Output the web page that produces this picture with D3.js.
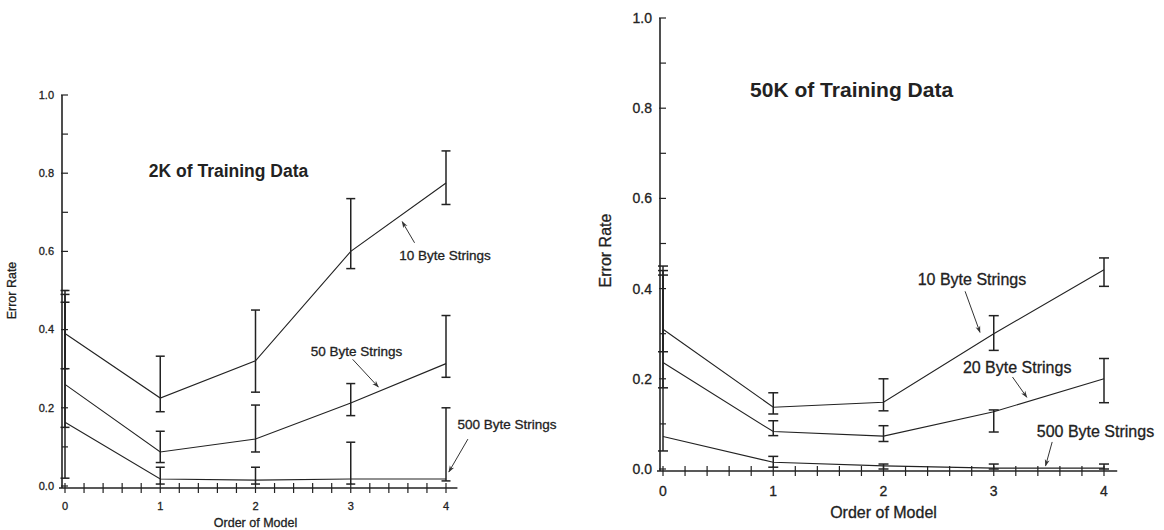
<!DOCTYPE html>
<html><head><meta charset="utf-8">
<script src="https://cdn.jsdelivr.net/npm/d3@7"></script>
<style>body{margin:0;background:#fff}svg{display:block}text{font-family:Arial,"Liberation Sans",sans-serif;fill:#222}</style>
</head><body><svg id="c" width="1164" height="530"></svg>
<script>
// ---------- data ----------
const orders = [0, 1, 2, 3, 4];
const xTickLabels = ["0", "1", "2", "3", "4"];
const yTickLabels = ["0.0", "0.2", "0.4", "0.6", "0.8", "1.0"];

// 2K of training data
const k2_10 = [0.39, 0.225, 0.32, 0.60, 0.775];
const k2_10_lo = [0.30, 0.19, 0.24, 0.556, 0.72];
const k2_10_hi = [0.49, 0.332, 0.45, 0.735, 0.857];
const k2_50 = [0.26, 0.087, 0.12, 0.212, 0.313];
const k2_50_lo = [0.15, 0.06, 0.087, 0.18, 0.278];
const k2_50_hi = [0.47, 0.14, 0.207, 0.262, 0.436];
const k2_500 = [0.163, 0.018, 0.015, 0.018, 0.018];
const k2_500_lo = [0.02, 0.005, 0.005, 0.005, 0.013];
const k2_500_hi = [0.50, 0.048, 0.048, 0.112, 0.20];

// 50K of training data
const k50_10 = [0.31, 0.137, 0.148, 0.30, 0.442];
const k50_10_lo = [0.26, 0.122, 0.129, 0.263, 0.405];
const k50_10_hi = [0.45, 0.169, 0.20, 0.34, 0.468];
const k50_20 = [0.236, 0.083, 0.073, 0.127, 0.20];
const k50_20_lo = [0.18, 0.074, 0.061, 0.082, 0.147];
const k50_20_hi = [0.44, 0.107, 0.096, 0.131, 0.245];
const k50_500 = [0.072, 0.015, 0.007, 0.002, 0.002];
const k50_500_lo = [0.04, 0.004, 0.0, 0.0, 0.0];
const k50_500_hi = [0.43, 0.028, 0.011, 0.011, 0.011];

// ---------- drawing ----------
const svg = d3.select("#c");
svg.append("defs").append("marker").attr("id","ah").attr("viewBox","0 0 10 10")
  .attr("refX",9).attr("refY",5).attr("markerWidth",7).attr("markerHeight",7)
  .attr("orient","auto-start-reverse")
  .append("path").attr("d","M0,1.5 L10,5 L0,8.5 L3,5 Z").attr("fill","#333");

function panel(cfg){
  const g = svg.append("g");
  const x = d3.scaleLinear().domain([0,4]).range([cfg.x0, cfg.x4]);
  const y = d3.scaleLinear().domain([0,1]).range([cfg.y0, cfg.y1]);
  const fs = cfg.fs;
  const axY = cfg.y0 + cfg.axOff;   // x-axis line sits slightly below zero
  const axX = cfg.x0 - cfg.axOffX;  // y-axis line slightly left of zero
  const heavy = sel => sel.attr("stroke","#222").attr("stroke-width",0.3);

  // x axis line
  g.append("line").attr("x1", axX-3).attr("x2", x(4.12)).attr("y1", axY).attr("y2", axY)
    .attr("stroke","#222").attr("stroke-width",1.6);
  d3.range(0, 4.001, 0.2).forEach(v=>{
    g.append("line").attr("x1",x(v)).attr("x2",x(v)).attr("y1",axY-5).attr("y2",axY+5)
      .attr("stroke","#222").attr("stroke-width",1.2);
  });
  orders.forEach((o,i)=>{
    g.append("text").attr("x",x(o)).attr("y",axY+cfg.tickDy).attr("text-anchor","middle")
      .attr("font-size",fs).call(heavy).text(xTickLabels[i]);
  });
  g.append("text").attr("x",x(2)).attr("y",axY+cfg.titleDy).attr("text-anchor","middle")
    .attr("font-size",cfg.labFs).call(heavy).text("Order of Model");

  // y axis line
  g.append("line").attr("x1",axX).attr("x2",axX).attr("y1",y(1)).attr("y2",axY)
    .attr("stroke","#222").attr("stroke-width",1.6);
  d3.range(0, 1.0001, 0.1).forEach((v,i)=>{
    const major = i%2===0;
    g.append("line").attr("x1", major? axX-1 : axX).attr("x2", axX+6)
      .attr("y1",y(v)).attr("y2",y(v)).attr("stroke","#222").attr("stroke-width",1.2);
  });
  yTickLabels.forEach((t,i)=>{
    g.append("text").attr("x",axX-8).attr("y",y(i*0.2)).attr("dy","0.35em")
      .attr("text-anchor","end").attr("font-size",fs).call(heavy).text(t);
  });
  g.append("text").attr("transform",`translate(${cfg.ylabX},${y(0.5)+cfg.ylabDy}) rotate(-90)`)
    .attr("text-anchor","middle").attr("font-size",cfg.labFs).call(heavy).text("Error Rate");

  // series
  const line = d3.line().x((d,i)=>x(orders[i])).y(d=>y(d));
  cfg.series.forEach(s=>{
    g.append("path").attr("d",line(s.v)).attr("fill","none").attr("stroke","#222").attr("stroke-width",1.1);
    s.v.forEach((v,i)=>{
      const cx = x(orders[i]);
      const cw = cfg.cap;
      g.append("line").attr("x1",cx).attr("x2",cx).attr("y1",y(s.lo[i])).attr("y2",y(s.hi[i]))
        .attr("stroke","#222").attr("stroke-width",1.5);
      [s.lo[i], s.hi[i]].forEach(e=>{
        g.append("line").attr("x1",cx-cw).attr("x2",cx+cw).attr("y1",y(e)).attr("y2",y(e))
          .attr("stroke","#222").attr("stroke-width",1.5);
      });
    });
  });

  // title
  g.append("text").attr("x",x(cfg.title.x)).attr("y",y(cfg.title.y)).attr("font-size",cfg.title.fs)
    .attr("font-weight","bold").attr("fill","#111").text(cfg.title.t);

  // annotations
  cfg.notes.forEach(n=>{
    g.append("text").attr("x",x(n.x)).attr("y",y(n.y)).attr("dy","0.35em")
      .attr("font-size",cfg.noteFs).call(heavy).text(n.t);
    g.append("line").attr("x1",x(n.a[0])).attr("y1",y(n.a[1])).attr("x2",x(n.a[2])).attr("y2",y(n.a[3]))
      .attr("stroke","#333").attr("stroke-width",1).attr("marker-end","url(#ah)");
  });
}

panel({
  x0:65, x4:446, y0:486, y1:95, axOff:2, axOffX:3, fs:11, labFs:12.5, tickDy:22, titleDy:39, ylabX:16, ylabDy:0, cap:4.5,
  series:[
    {v:k2_10, lo:k2_10_lo, hi:k2_10_hi},
    {v:k2_50, lo:k2_50_lo, hi:k2_50_hi},
    {v:k2_500, lo:k2_500_lo, hi:k2_500_hi}
  ],
  title:{t:"2K of Training Data", x:0.88, y:0.79, fs:17.5},
  noteFs:13.5,
  notes:[
    {t:"10 Byte Strings", x:3.51, y:0.59, a:[3.67,0.622,3.54,0.676]},
    {t:"50 Byte Strings", x:2.58, y:0.344, a:[3.02,0.324,3.29,0.253]},
    {t:"500 Byte Strings", x:4.12, y:0.158, a:[4.23,0.12,4.03,0.036]}
  ]
});

panel({
  x0:663, x4:1104, y0:469, y1:18, axOff:2, axOffX:3, fs:14, labFs:16, tickDy:25, titleDy:47, ylabX:611, ylabDy:7, cap:5,
  series:[
    {v:k50_10, lo:k50_10_lo, hi:k50_10_hi},
    {v:k50_20, lo:k50_20_lo, hi:k50_20_hi},
    {v:k50_500, lo:k50_500_lo, hi:k50_500_hi}
  ],
  title:{t:"50K of Training Data", x:0.79, y:0.825, fs:21},
  noteFs:16,
  notes:[
    {t:"10 Byte Strings", x:2.31, y:0.42, a:[2.74,0.394,2.875,0.303]},
    {t:"20 Byte Strings", x:2.72, y:0.226, a:[3.17,0.204,3.30,0.159]},
    {t:"500 Byte Strings", x:3.39, y:0.084, a:[3.53,0.06,3.47,0.007]}
  ]
});
</script></body></html>
